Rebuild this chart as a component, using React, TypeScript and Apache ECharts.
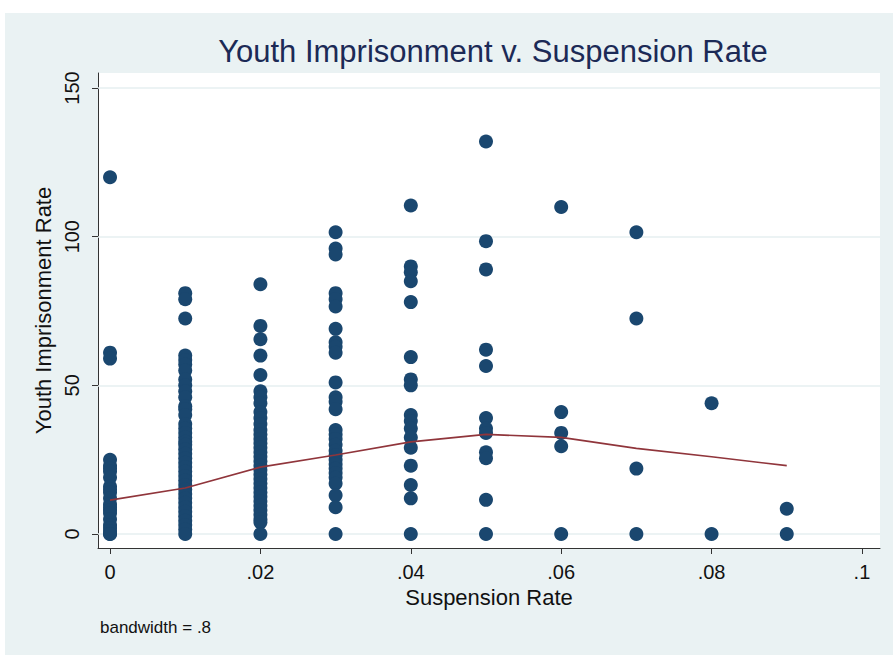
import React, { useEffect, useRef } from "react";
import * as echarts from "echarts";

const titleText = "Youth Imprisonment v. Suspension Rate";
const xAxisName = "Suspension Rate";
const yAxisName = "Youth Imprisonment Rate";
const noteText = "bandwidth = .8";

const xTicks = [0, 0.02, 0.04, 0.06, 0.08, 0.1];
const yTicks = [0, 50, 100, 150];

const suspensionRates = [0, 0.01, 0.02, 0.03, 0.04, 0.05, 0.06, 0.07, 0.08, 0.09];

const rate000 = [120, 61, 59, 25, 23, 22, 21, 19, 16, 15, 14, 12, 10, 9, 8, 7, 5, 3, 2, 1, 0, 0];
const rate001 = [81, 79, 72.5, 60, 58.5, 57, 55, 52, 50, 48, 46, 43, 42, 40, 37, 35.5, 34, 32.5, 31, 30, 28.5, 27, 25.5, 24, 22.5, 21, 19.5, 18, 16.5, 15, 13.5, 12, 10.5, 9, 7.5, 6, 4.5, 3, 1.5, 0];
const rate002 = [84, 70, 65.5, 60, 53.5, 48, 46, 44, 41, 39, 37, 35, 33.5, 32, 30.5, 29, 27.5, 26, 24.5, 23, 21.5, 20, 18.5, 17, 15.5, 14, 12.5, 11, 9.5, 8, 6.5, 5, 4, 0];
const rate003 = [101.5, 96, 94, 81, 79, 76.5, 69, 64.5, 63, 61, 51, 46, 44.5, 42, 35, 33.5, 32, 30, 28, 26.5, 25, 23.5, 22, 20.5, 19, 17, 13, 9, 0];
const rate004 = [110.5, 90, 88, 85, 78, 59.5, 52, 50, 40, 38, 35.5, 32.5, 29, 23, 16.5, 12, 0];
const rate005 = [132, 98.5, 89, 62, 56.5, 39, 35.5, 34, 27.5, 25.5, 11.5, 0];
const rate006 = [110, 41, 34, 29.5, 0];
const rate007 = [101.5, 72.5, 22, 0];
const rate008 = [44, 0];
const rate009 = [8.5, 0];

const imprisonmentByRate = [rate000, rate001, rate002, rate003, rate004, rate005, rate006, rate007, rate008, rate009];

const lowessX = [0, 0.01, 0.02, 0.03, 0.04, 0.05, 0.06, 0.07, 0.08, 0.09];
const lowessY = [11.4, 15.5, 22.5, 26.6, 31, 33.5, 32.5, 28.8, 26, 23];

const FONT = "'Liberation Sans', Arial, Helvetica, sans-serif";

export default function App() {
  const ref = useRef<HTMLDivElement>(null);
  useEffect(() => {
    if (!ref.current) return;
    const chart = echarts.init(ref.current, null, { renderer: "svg" });
    const points: number[][] = [];
    suspensionRates.forEach((x, i) => {
      imprisonmentByRate[i].forEach((y) => points.push([x, y]));
    });
    const lowess = lowessX.map((x, i) => [x, lowessY[i]]);

    chart.setOption({
      animation: false,
      backgroundColor: "#ffffff",
      textStyle: { fontFamily: FONT },
      graphic: [
        {
          type: "rect",
          z: -10,
          silent: true,
          shape: { x: 5, y: 13, width: 900, height: 660 },
          style: { fill: "#eaf2f3" },
        },
        {
          type: "rect",
          z: -9,
          silent: true,
          shape: { x: 98, y: 73, width: 782, height: 475 },
          style: { fill: "#ffffff" },
        },
        {
          type: "text",
          left: 100,
          top: 619,
          style: { text: noteText, fontSize: 17, fill: "#111", fontFamily: FONT },
        },
      ],
      title: {
        text: titleText,
        left: 488,
        textAlign: "center",
        top: 31,
        textStyle: { fontSize: 31, fontWeight: "normal", color: "#1c2a56", fontFamily: FONT },
      },
      grid: { left: 98, right: 13, top: 73, bottom: 107, containLabel: false },
      xAxis: {
        type: "value",
        min: -0.0016,
        max: 0.1024,
        name: xAxisName,
        nameLocation: "middle",
        nameGap: 38,
        nameTextStyle: { fontSize: 22, color: "#111", fontFamily: FONT },
        axisLine: { show: true, onZero: false, lineStyle: { color: "#333", width: 1 } },
        axisTick: { show: true, customValues: xTicks, length: 6, lineStyle: { color: "#333" } },
        axisLabel: {
          customValues: xTicks,
          fontSize: 20,
          color: "#111",
          margin: 14,
          formatter: (v: number) => (v === 0 ? "0" : String(+v.toFixed(2)).replace(/^0/, "")),
        },
        splitLine: { show: false },
      },
      yAxis: {
        type: "value",
        min: -4.7,
        max: 155.05,
        name: yAxisName,
        nameLocation: "middle",
        nameGap: 42,
        nameTextStyle: { fontSize: 22, color: "#111", fontFamily: FONT },
        axisLine: { show: true, onZero: false, lineStyle: { color: "#333", width: 1 } },
        axisTick: { show: true, customValues: yTicks, length: 6, lineStyle: { color: "#333" } },
        axisLabel: {
          customValues: yTicks,
          fontSize: 20,
          color: "#111",
          rotate: 90,
          margin: 16,
        },
        splitLine: { show: false },
      },
      series: [
        {
          type: "scatter",
          data: points,
          symbol: "circle",
          symbolSize: 14,
          itemStyle: { color: "#1a476f", opacity: 1 },
          z: 3,
          markLine: {
            silent: true,
            symbol: "none",
            label: { show: false },
            lineStyle: { color: "#e6eff1", width: 1.5, type: "solid" },
            data: yTicks.map((v) => ({ yAxis: v })),
            z: 1,
          },
        },
        {
          type: "line",
          data: lowess,
          showSymbol: false,
          symbol: "none",
          lineStyle: { color: "#90353b", width: 1.6 },
          z: 4,
        },
      ],
    });
    return () => chart.dispose();
  }, []);
  return <div ref={ref} style={{ position: "fixed", left: 0, top: 0, width: 893, height: 655 }} />;
}
